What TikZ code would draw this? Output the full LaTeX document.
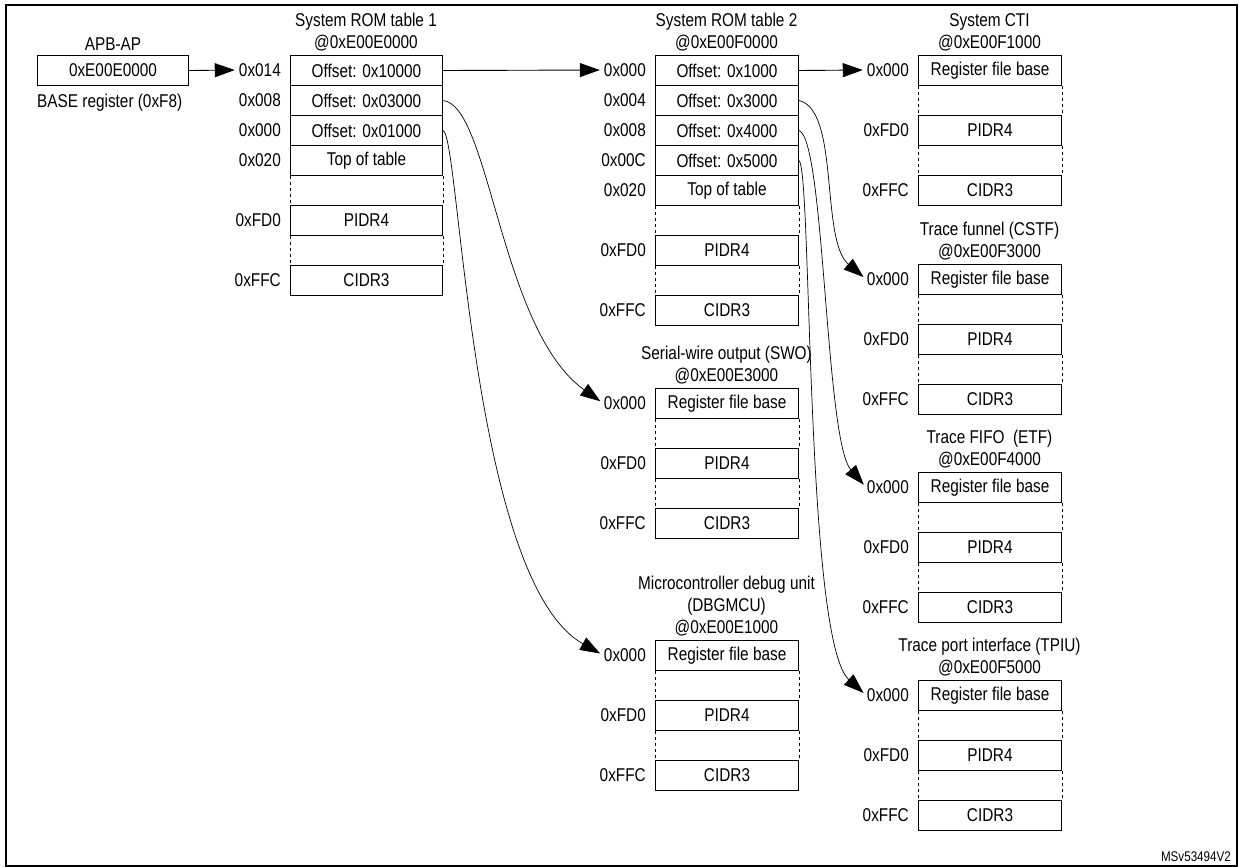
\documentclass[tikz,border=0pt]{standalone}
\usepackage{fontspec}
\setmainfont{Liberation Sans}[FakeStretch=0.83]
\usetikzlibrary{arrows.meta}
\begin{document}
\begin{tikzpicture}[x=1pt,y=-1pt,
  every node/.style={font=\fontsize{18.5}{20}\selectfont},
  cell/.style={draw, line width=1pt, minimum width=143pt, minimum height=30pt, inner sep=0pt, anchor=north west},
  wcell/.style={cell, minimum width=152pt},
  lab/.style={anchor=east, inner sep=1pt},
  ttl/.style={align=center, anchor=south, inner sep=0pt, font=\fontsize{18.5}{22}\selectfont},
  dsh/.style={dashed, line width=0.7pt},
  arr/.style={-{Triangle[length=20pt,width=14pt]}, line width=0.9pt, shorten >=3pt},
  crv/.style={arr, line width=0.7pt}]
\useasboundingbox (0,0) rectangle (1239,867);
\draw[line width=1.6pt] (6,5) rectangle (1237,866);
\newcommand\regblock[5]{%
  \node[cell] (#1r) at (#2,#3) {Register file base};
  \node[cell] (#1p) at (#2,{#3+60}) {PIDR4};
  \node[cell] (#1c) at (#2,{#3+120}) {CIDR3};
  \draw[dsh] (#1r.south west)--(#1p.north west) (#1r.south east)--(#1p.north east)
             (#1p.south west)--(#1c.north west) (#1p.south east)--(#1c.north east);
  \node[lab] (#1l0) at ({#2-8},{#3+15}) {0x000};
  \node[lab] (#1l1) at ({#2-8},{#3+75}) {0xFD0};
  \node[lab] (#1l2) at ({#2-8},{#3+135}) {0xFFC};
  \node[ttl] (#1t) at ({#2+71.5},{#3-4}) {#4};
}
% APB-AP
\node[draw, line width=1pt, minimum width=151pt, minimum height=30pt, inner sep=0pt, anchor=north west] (apb) at (37,55) {0xE00E0000};
\node[ttl] (apbt) at (apb.north) [yshift=4pt] {APB-AP};
\node[anchor=west, inner sep=0pt] (base) at (37,103) {BASE register (0xF8)};
% ROM table 1
\node[wcell] (a1) at (290,55) {Offset: 0x10000};
\node[wcell] (a2) at (290,85) {Offset: 0x03000};
\node[wcell] (a3) at (290,115) {Offset: 0x01000};
\node[wcell] (a4) at (290,145) {Top of table};
\node[wcell] (a5) at (290,205) {PIDR4};
\node[wcell] (a6) at (290,265) {CIDR3};
\draw[dsh] (a4.south west)--(a5.north west) (a4.south east)--(a5.north east)
           (a5.south west)--(a6.north west) (a5.south east)--(a6.north east);
\node[lab] (al1) at (282,70) {0x014};
\node[lab] (al2) at (282,100) {0x008};
\node[lab] (al3) at (282,130) {0x000};
\node[lab] (al4) at (282,160) {0x020};
\node[lab] (al5) at (282,220) {0xFD0};
\node[lab] (al6) at (282,280) {0xFFC};
\node[ttl] (at) at (366,51) {System ROM table 1\\@0xE00E0000};
% ROM table 2
\node[cell] (b1) at (655,55) {Offset: 0x1000};
\node[cell] (b2) at (655,85) {Offset: 0x3000};
\node[cell] (b3) at (655,115) {Offset: 0x4000};
\node[cell] (b4) at (655,145) {Offset: 0x5000};
\node[cell] (b5) at (655,175) {Top of table};
\node[cell] (b6) at (655,235) {PIDR4};
\node[cell] (b7) at (655,295) {CIDR3};
\draw[dsh] (b5.south west)--(b6.north west) (b5.south east)--(b6.north east)
           (b6.south west)--(b7.north west) (b6.south east)--(b7.north east);
\node[lab] (bl1) at (647,70) {0x000};
\node[lab] (bl2) at (647,100) {0x004};
\node[lab] (bl3) at (647,130) {0x008};
\node[lab] (bl4) at (647,160) {0x00C};
\node[lab] (bl5) at (647,190) {0x020};
\node[lab] (bl6) at (647,250) {0xFD0};
\node[lab] (bl7) at (647,310) {0xFFC};
\node[ttl] (bt) at (726.5,51) {System ROM table 2\\@0xE00F0000};
% peripherals
\regblock{cti}{918}{55}{System CTI\\@0xE00F1000}{}
\regblock{cstf}{918}{264}{Trace funnel (CSTF)\\@0xE00F3000}{}
\regblock{etf}{918}{472}{Trace FIFO \ (ETF)\\@0xE00F4000}{}
\regblock{tpiu}{918}{680}{Trace port interface (TPIU)\\@0xE00F5000}{}
\regblock{swo}{655}{388}{Serial-wire output (SWO)\\@0xE00E3000}{}
\regblock{dbg}{655}{640}{Microcontroller debug unit\\(DBGMCU)\\@0xE00E1000}{}
% connectors
\draw[arr] (apb.east) -- (al1.west);
\draw[arr] (a1.east) -- (bl1.west);
\draw[arr] (b1.east) -- (ctil0.west);
\draw[crv] (a2.east) .. controls (490,105) and (500,330) .. (swol0.west);
\draw[crv] (a3.east) .. controls (460,135) and (470,580) .. (dbgl0.west);
\draw[crv] (b2.east) .. controls (840,110) and (820,240) .. (cstfl0.west);
\draw[crv] (b3.east) .. controls (825,140) and (825,440) .. (etfl0.west);
\draw[crv] (b4.east) .. controls (812,170) and (805,640) .. (tpiul0.west);
\node[anchor=south east, inner sep=0pt, font=\fontsize{14}{16}\selectfont] (ms) at (1231,862) {MSv53494V2};
\end{tikzpicture}
\end{document}
